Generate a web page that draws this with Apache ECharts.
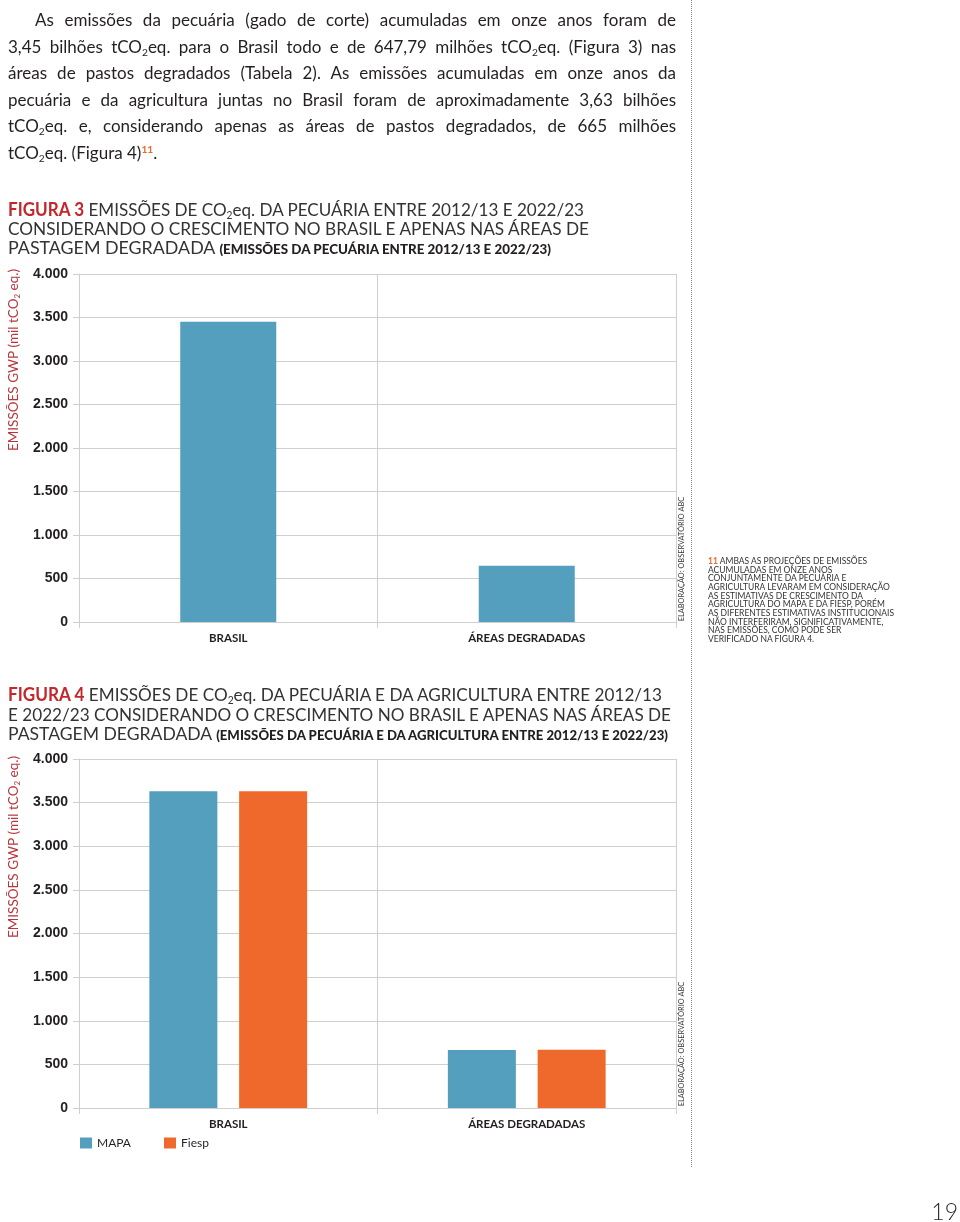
<!DOCTYPE html>
<html><head><meta charset="utf-8">
<script src="https://cdn.jsdelivr.net/npm/echarts@6/dist/echarts.min.js"></script>
<style>
html,body{margin:0;padding:0;background:#fff;}
body{width:960px;height:1222px;position:relative;overflow:hidden;font-family:Lato,'Noto Sans',sans-serif;color:#231f20;}
#chart{position:absolute;left:0;top:0;width:960px;height:1222px;}
.abs{position:absolute;}
.pl{position:absolute;left:8px;width:668px;font-size:17px;line-height:26.5px;white-space:nowrap;text-align:justify;text-align-last:justify;color:#231f20;transform-origin:0 50%;}
.pl.last{text-align-last:left;}
sub{font-size:0.6em;vertical-align:-0.3em;line-height:0;}
sup{font-size:0.6em;vertical-align:0.6em;line-height:0;}
.or{color:#e8692c;font-weight:700;}
.tl{position:absolute;left:8px;white-space:nowrap;font-size:18px;line-height:19px;transform-origin:0 50%;color:#333;}
.red{color:#c1272d;font-weight:700;}
.sm{font-weight:900;font-size:13.5px;color:#231f20;}
#foot{left:708px;top:557px;font-size:8.6px;line-height:8.65px;color:#333;white-space:nowrap;transform-origin:0 0;}
#pg{right:2px;top:1197px;font-size:23px;font-weight:300;color:#231f20;}
#dots{left:691px;top:0;height:1167px;width:0;border-left:1.5px dotted #888;}
</style></head>
<body>
<div id="chart"></div>
<div id="dots" class="abs"></div>

<div class="pl" data-x="35" style="top:7px"><span>As emissões da pecuária (gado de corte) acumuladas em onze anos foram de</span></div>
<div class="pl" style="top:33.5px"><span>3,45 bilhões tCO<sub>2</sub>eq. para o Brasil todo e de 647,79 milhões tCO<sub>2</sub>eq. (Figura 3) nas</span></div>
<div class="pl" style="top:60px"><span>áreas de pastos degradados (Tabela 2). As emissões acumuladas em onze anos da</span></div>
<div class="pl" style="top:86.5px"><span>pecuária e da agricultura juntas no Brasil foram de aproximadamente 3,63 bilhões</span></div>
<div class="pl" style="top:113px"><span>tCO<sub>2</sub>eq. e, considerando apenas as áreas de pastos degradados, de 665 milhões</span></div>
<div class="pl last" style="top:139.5px"><span>tCO<sub>2</sub>eq. (Figura 4)<sup class="or">11</sup>.</span></div>

<div class="tl" data-w="576" style="top:200px"><span class="red">FIGURA 3</span> EMISSÕES DE CO<sub>2</sub>eq. DA PECUÁRIA ENTRE 2012/13 E 2022/23</div>
<div class="tl" data-w="581" style="top:219px">CONSIDERANDO O CRESCIMENTO NO BRASIL E APENAS NAS ÁREAS DE</div>
<div class="tl" data-w="543" style="top:238px">PASTAGEM DEGRADADA <span class="sm">(EMISSÕES DA PECUÁRIA ENTRE 2012/13 E 2022/23)</span></div>

<div class="tl" data-w="654" style="top:685px"><span class="red">FIGURA 4</span> EMISSÕES DE CO<sub>2</sub>eq. DA PECUÁRIA E DA AGRICULTURA ENTRE 2012/13</div>
<div class="tl" data-w="663" style="top:705px">E 2022/23 CONSIDERANDO O CRESCIMENTO NO BRASIL E APENAS NAS ÁREAS DE</div>
<div class="tl" data-w="660" style="top:724px">PASTAGEM DEGRADADA <span class="sm">(EMISSÕES DA PECUÁRIA E DA AGRICULTURA ENTRE 2012/13 E 2022/23)</span></div>

<div id="foot" class="abs"><span class="or">11</span> AMBAS AS PROJEÇÕES DE EMISSÕES<br>ACUMULADAS EM ONZE ANOS<br>CONJUNTAMENTE DA PECUÁRIA E<br>AGRICULTURA LEVARAM EM CONSIDERAÇÃO<br>AS ESTIMATIVAS DE CRESCIMENTO DA<br>AGRICULTURA DO MAPA E DA FIESP, PORÉM<br><span id="longest">AS DIFERENTES ESTIMATIVAS INSTITUCIONAIS</span><br>NÃO INTERFERIRAM, SIGNIFICATIVAMENTE,<br>NAS EMISSÕES, COMO PODE SER<br>VERIFICADO NA FIGURA 4.</div>
<div id="pg" class="abs">19</div>

<script>
// ---- data ----
const categories = ['BRASIL', 'ÁREAS DEGRADADAS'];
const fig3Pecuaria = [3450, 647.79];
const fig4Mapa = [3630, 665];
const fig4Fiesp = [3630, 668];
const legendNames = ['MAPA', 'Fiesp'];
const yMin = 0, yMax = 4000, yStep = 500;
const yAxisTitle = ['EMISSÕES GWP (mil tCO', '2', ' eq.)'];
const sourceText = 'ELABORAÇÃO: OBSERVATÓRIO ABC';

// ---- style ----
const BLUE = '#549fbe', ORANGE = '#f0692c', GRID = '#cfcfcf', AXISRED = '#b8363d';

function fmt(v) {
  return v >= 1000 ? Math.floor(v / 1000) + '.' + String(v % 1000).padStart(3, '0') : String(v);
}

function xAx(i) {
  return {
    type: 'category', gridIndex: i, data: categories,
    axisLine: { lineStyle: { color: GRID } },
    axisTick: { show: true, length: 6, lineStyle: { color: GRID } },
    splitLine: { show: true, lineStyle: { color: GRID } },
    axisLabel: { margin: 10, fontFamily: 'Lato', fontWeight: 'bold', fontSize: 11.5, color: '#231f20' }
  };
}
function yAx(i) {
  return {
    type: 'value', gridIndex: i, min: yMin, max: yMax, interval: yStep,
    axisLine: { show: true, lineStyle: { color: GRID } },
    axisTick: { show: true, length: 6, lineStyle: { color: GRID } },
    splitLine: { show: true, lineStyle: { color: GRID } },
    axisLabel: { margin: 11, formatter: fmt, fontFamily: 'Liberation Sans', fontWeight: 'bold', fontSize: 14, color: '#231f20' }
  };
}
function axisName(cy) {
  return {
    type: 'text', x: 14, y: cy, rotation: Math.PI / 2, silent: true,
    style: {
      text: '{a|' + yAxisTitle[0] + '}{s|' + yAxisTitle[1] + '}{a|' + yAxisTitle[2] + '}',
      align: 'center', verticalAlign: 'middle',
      rich: {
        a: { fontFamily: 'Lato', fontSize: 13.5, fill: AXISRED, color: AXISRED },
        s: { fontFamily: 'Lato', fontSize: 8, fill: AXISRED, color: AXISRED, verticalAlign: 'bottom', padding: [6, 0, 0, 0] }
      }
    }
  };
}
function source(cy) {
  return {
    type: 'text', x: 682, y: cy, rotation: Math.PI / 2, silent: true,
    style: { text: sourceText, align: 'center', verticalAlign: 'middle', fontFamily: 'Lato', fontSize: 7.4, fill: '#333' }
  };
}

const chart = echarts.init(document.getElementById('chart'), null, { renderer: 'canvas' });
chart.setOption({
  animation: false,
  grid: [
    { left: 79, top: 274, width: 597, height: 348 },
    { left: 79, top: 759, width: 597, height: 349 }
  ],
  xAxis: [xAx(0), xAx(1)],
  yAxis: [yAx(0), yAx(1)],
  legend: {
    data: legendNames, left: 75, top: 1132, itemWidth: 12, itemHeight: 11, itemGap: 33, icon: 'rect',
    textStyle: { fontFamily: 'Lato', fontSize: 12, color: '#231f20' }
  },
  series: [
    { type: 'bar', name: 'Pecuária', xAxisIndex: 0, yAxisIndex: 0, data: fig3Pecuaria, barWidth: 96, itemStyle: { color: BLUE } },
    { type: 'bar', name: legendNames[0], xAxisIndex: 1, yAxisIndex: 1, data: fig4Mapa, barWidth: 68, barGap: '32%', itemStyle: { color: BLUE } },
    { type: 'bar', name: legendNames[1], xAxisIndex: 1, yAxisIndex: 1, data: fig4Fiesp, barWidth: 68, barGap: '32%', itemStyle: { color: ORANGE } }
  ],
  graphic: [axisName(360), axisName(847), source(559), source(1044)]
});

function fit() {
  document.querySelectorAll('.tl').forEach(el => {
    el.style.transform = 'none';
    const w = el.getBoundingClientRect().width;
    const t = +el.dataset.w;
    if (w > 0) el.style.transform = 'scaleX(' + (t / w) + ')';
  });
  document.querySelectorAll('.pl').forEach(el => {
    const x0 = el.dataset.x ? +el.dataset.x : 8;
    const target = 676 - x0;
    el.style.transform = 'none';
    el.style.left = x0 + 'px';
    el.style.width = target + 'px';
    const sp = el.querySelector('span');
    const w = sp.getBoundingClientRect().width;
    if (w > target) {
      el.style.width = w + 'px';
      el.style.transform = 'scaleX(' + (target / w) + ')';
    }
  });
  const f = document.getElementById('foot');
  f.style.transform = 'none';
  const lw = document.getElementById('longest').getBoundingClientRect().width;
  if (lw > 0) f.style.transform = 'scaleX(' + (186 / lw) + ')';
}
fit();
if (document.fonts && document.fonts.ready) document.fonts.ready.then(fit);
</script>
</body></html>
